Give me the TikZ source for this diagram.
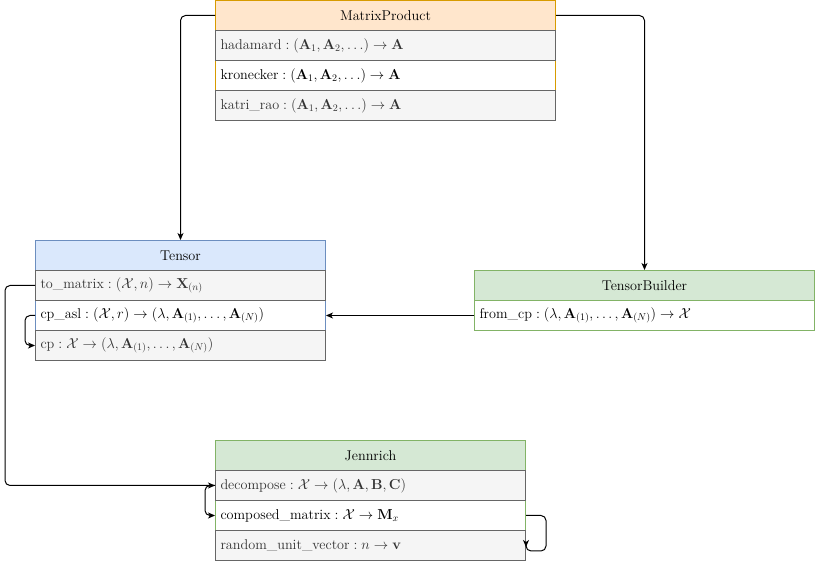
\documentclass[tikz,border=0pt]{standalone}
\usepackage{amsmath}
\usetikzlibrary{arrows.meta}
\definecolor{orfill}{HTML}{FFE6CC}\definecolor{orline}{HTML}{D79B00}
\definecolor{blfill}{HTML}{DAE8FC}\definecolor{blline}{HTML}{6C8EBF}
\definecolor{grfill}{HTML}{D5E8D4}\definecolor{grline}{HTML}{82B366}
\definecolor{gyfill}{HTML}{F5F5F5}\definecolor{gyline}{HTML}{666666}
\definecolor{gytext}{HTML}{333333}
\begin{document}
\begin{tikzpicture}[x=1pt,y=-1pt,line width=1pt,font=\fontsize{14.2}{17}\selectfont,
  hdr/.style={draw,minimum height=30pt,inner sep=0pt,anchor=north west},
  mrow/.style={draw,fill=white,minimum height=30pt,inner xsep=5pt,inner ysep=0pt,anchor=north west,align=left},
  gyrow/.style={mrow,fill=gyfill,draw=gyline,text=gytext},
  conn/.style={draw=black,line width=1pt,rounded corners=5pt,-{Stealth[length=7pt,width=6pt,inset=2pt]}}]
\useasboundingbox (0,0) rectangle (815,561);
% MatrixProduct
\node[hdr,fill=orfill,draw=orline,minimum width=340pt] (mp) at (215,0) {MatrixProduct};
\node[mrow,draw=orline,text width=330pt] (mp2) at (215,60) {$\text{kronecker}:(\mathbf{A}_1,\mathbf{A}_2,\ldots)\to\mathbf{A}$};
\node[gyrow,text width=330pt] (mp1) at (215,30) {$\text{hadamard}:(\mathbf{A}_1,\mathbf{A}_2,\ldots)\to\mathbf{A}$};
\node[gyrow,text width=330pt] (mp3) at (215,90) {$\text{katri\_rao}:(\mathbf{A}_1,\mathbf{A}_2,\ldots)\to\mathbf{A}$};
% Tensor
\node[hdr,fill=blfill,draw=blline,minimum width=290pt] (t) at (35,240) {Tensor};
\node[mrow,draw=blline,text width=280pt] (t2) at (35,300) {$\text{cp\_asl}:(\mathcal{X},r)\to(\lambda,\mathbf{A}_{(1)},\ldots,\mathbf{A}_{(N)})$};
\node[gyrow,text width=280pt] (t1) at (35,270) {$\text{to\_matrix}:(\mathcal{X},n)\to\mathbf{X}_{(n)}$};
\node[gyrow,text width=280pt] (t3) at (35,330) {$\text{cp}:\mathcal{X}\to(\lambda,\mathbf{A}_{(1)},\ldots,\mathbf{A}_{(N)})$};
% TensorBuilder
\node[hdr,fill=grfill,draw=grline,minimum width=340pt] (tb) at (474,270) {TensorBuilder};
\node[mrow,draw=grline,text width=330pt] (tb1) at (474,300) {$\text{from\_cp}:(\lambda,\mathbf{A}_{(1)},\ldots,\mathbf{A}_{(N)})\to\mathcal{X}$};
% Jennrich
\node[hdr,fill=grfill,draw=grline,minimum width=310pt] (j) at (215,440) {Jennrich};
\node[mrow,draw=grline,text width=300pt] (j2) at (215,500) {$\text{composed\_matrix}:\mathcal{X}\to\mathbf{M}_x$};
\node[gyrow,text width=300pt] (j1) at (215,470) {$\text{decompose}:\mathcal{X}\to(\lambda,\mathbf{A},\mathbf{B},\mathbf{C})$};
\node[gyrow,text width=300pt] (j3) at (215,530) {$\text{random\_unit\_vector}:n\to\mathbf{v}$};
% connectors
\draw[conn] (mp.west) -| (t.north);
\draw[conn] (mp.east) -| (tb.north);
\draw[conn] (tb1.west) -- (t2.east);
\draw[conn] (t2.west) -- ++(-10,0) |- (t3.west);
\draw[conn] (t1.west) -- ++(-30,0) |- (j1.west);
\draw[conn] (j1.west) -- ++(-10,0) |- (j2.west);
\coordinate (jend) at ([yshift=14pt]j3.south east);
\draw[conn] (j2.east) -- ++(20,0) |- ([yshift=10pt]j3.south east) -- (jend);
\end{tikzpicture}
\end{document}
